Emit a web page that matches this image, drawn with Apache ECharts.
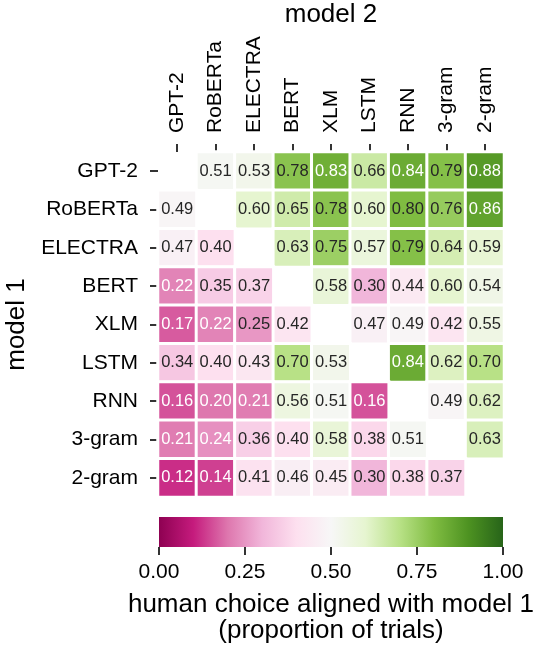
<!DOCTYPE html>
<html>
<head>
<meta charset="utf-8">
<script src="https://cdn.jsdelivr.net/npm/echarts@6/dist/echarts.min.js"></script>
<style>
  html, body { margin: 0; padding: 0; background: #fff; }
  #main { width: 537px; height: 653px; }
</style>
</head>
<body>
<div id="main"></div>
<script>
// model names (rows = model 1, columns = model 2)
const models = ['GPT-2', 'RoBERTa', 'ELECTRA', 'BERT', 'XLM', 'LSTM', 'RNN', '3-gram', '2-gram'];

// proportion of trials where human choice aligned with model 1
const rowGPT2    = [null, 0.51, 0.53, 0.78, 0.83, 0.66, 0.84, 0.79, 0.88];
const rowRoBERTa = [0.49, null, 0.60, 0.65, 0.78, 0.60, 0.80, 0.76, 0.86];
const rowELECTRA = [0.47, 0.40, null, 0.63, 0.75, 0.57, 0.79, 0.64, 0.59];
const rowBERT    = [0.22, 0.35, 0.37, null, 0.58, 0.30, 0.44, 0.60, 0.54];
const rowXLM     = [0.17, 0.22, 0.25, 0.42, null, 0.47, 0.49, 0.42, 0.55];
const rowLSTM    = [0.34, 0.40, 0.43, 0.70, 0.53, null, 0.84, 0.62, 0.70];
const rowRNN     = [0.16, 0.20, 0.21, 0.56, 0.51, 0.16, null, 0.49, 0.62];
const row3gram   = [0.21, 0.24, 0.36, 0.40, 0.58, 0.38, 0.51, null, 0.63];
const row2gram   = [0.12, 0.14, 0.41, 0.46, 0.45, 0.30, 0.38, 0.37, null];
const rows = [rowGPT2, rowRoBERTa, rowELECTRA, rowBERT, rowXLM, rowLSTM, rowRNN, row3gram, row2gram];

// colorbar ticks
const cbarTicks = [0, 0.25, 0.5, 0.75, 1];

// PiYG colormap
const piyg = ['#8e0152', '#c51b7d', '#de77ae', '#f1b6da', '#fde0ef', '#f7f7f7',
              '#e6f5d0', '#b8e186', '#7fbc41', '#4d9221', '#276419'];

const font = '"Liberation Sans", Arial, Helvetica, sans-serif';

let heatData = [];
rows.forEach((r, i) => {
  r.forEach((v, j) => {
    if (v === null) return;
    let light = v < 0.245 || v > 0.815;
    heatData.push({
      value: [j, i, v],
      label: { color: light ? '#ffffff' : '#262626' },
    });
  });
});

let myChart = echarts.init(document.getElementById('main'));
let option = {
  backgroundColor: '#ffffff',
  animation: false,
  grid: [
    { left: 158, top: 152, width: 346, height: 345, containLabel: false, outerBoundsMode: 'none' },
    { left: 159, top: 517, width: 344, height: 30, containLabel: false, outerBoundsMode: 'none' },
  ],
  xAxis: [
    {
      type: 'category',
      gridIndex: 0,
      data: models,
      position: 'top',
      name: 'model 2',
      nameLocation: 'middle',
      nameGap: 124,
      nameTextStyle: { fontSize: 26, color: '#000', fontFamily: font },
      axisLine: { show: false },
      axisTick: { show: true, alignWithLabel: true, length: 8, lineStyle: { color: '#000', width: 1.6 } },
      axisLabel: { rotate: -90, fontSize: 21, color: '#000', margin: 19, fontFamily: font },
      splitLine: { show: false },
    },
    {
      type: 'value',
      gridIndex: 1,
      min: 0,
      max: 1,
      interval: 0.25,
      position: 'bottom',
      name: 'human choice aligned with model 1\n(proportion of trials)',
      nameLocation: 'middle',
      nameGap: 45,
      nameTextStyle: { fontSize: 26, color: '#000', fontFamily: font, lineHeight: 26 },
      axisLine: { show: false },
      axisTick: { show: true, length: 8, lineStyle: { color: '#000', width: 1.6 } },
      axisLabel: {
        fontSize: 21, color: '#000', margin: 15, fontFamily: font,
        formatter: v => v.toFixed(2),
      },
      splitLine: { show: false },
    },
  ],
  yAxis: [
    {
      type: 'category',
      gridIndex: 0,
      data: models,
      inverse: true,
      name: 'model 1',
      nameLocation: 'middle',
      nameGap: 128,
      nameRotate: 90,
      nameTextStyle: { fontSize: 26, color: '#000', fontFamily: font },
      axisLine: { show: false },
      axisTick: { show: true, alignWithLabel: true, length: 8, lineStyle: { color: '#000', width: 1.6 } },
      axisLabel: { fontSize: 21, color: '#000', margin: 20, fontFamily: font },
      splitLine: { show: false },
    },
    {
      type: 'value',
      gridIndex: 1,
      min: 0,
      max: 1,
      show: false,
    },
  ],
  visualMap: {
    show: false,
    type: 'continuous',
    min: 0,
    max: 1,
    seriesIndex: 0,
    dimension: 2,
    inRange: { color: piyg },
  },
  series: [
    {
      type: 'heatmap',
      xAxisIndex: 0,
      yAxisIndex: 0,
      data: heatData,
      itemStyle: { borderColor: '#ffffff', borderWidth: 3 },
      label: {
        show: true,
        fontSize: 16.5,
        fontFamily: font,
        formatter: p => p.value[2].toFixed(2),
      },
      emphasis: { disabled: true },
    },
    {
      // colorbar
      type: 'custom',
      xAxisIndex: 1,
      yAxisIndex: 1,
      data: [[cbarTicks[0], cbarTicks[cbarTicks.length - 1]]],
      renderItem: (params, api) => {
        let p0 = api.coord([api.value(0), 0]);
        let p1 = api.coord([api.value(1), 1]);
        return {
          type: 'rect',
          shape: { x: p0[0], y: p1[1], width: p1[0] - p0[0], height: p0[1] - p1[1] },
          style: {
            fill: new echarts.graphic.LinearGradient(0, 0, 1, 0,
              piyg.map((c, k) => ({ offset: k / (piyg.length - 1), color: c }))),
          },
        };
      },
      silent: true,
    },
  ],
};
myChart.setOption(option);
</script>
</body>
</html>
